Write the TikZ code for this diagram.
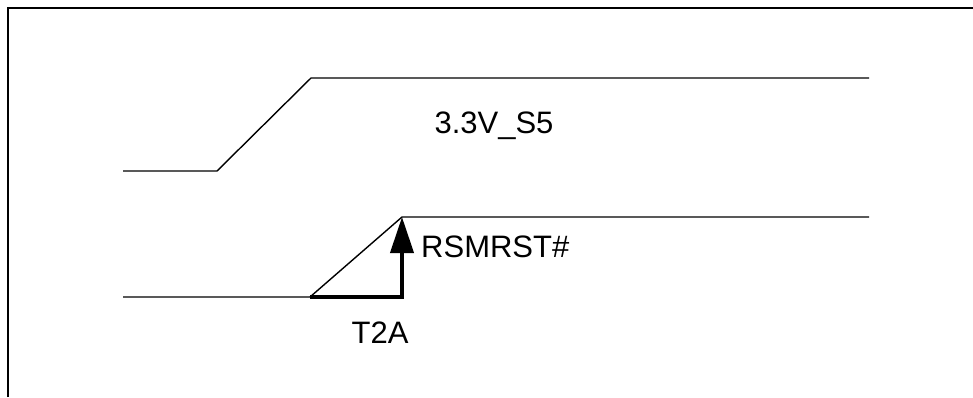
\documentclass[tikz,border=0pt]{standalone}
\usepackage{fontspec}
\setmainfont{Liberation Sans}
\usetikzlibrary{arrows.meta}

\begin{document}
\begin{tikzpicture}[x=1pt, y=-1pt,
      frame/.style={line width=2.4pt},
      wave/.style={line width=1.4pt, line join=miter},
      delay/.style={line width=4pt, line join=miter,
                    -{Triangle[length=36pt, width=23pt]}},
      sig/.style={font=\fontsize{31}{37}\selectfont, inner sep=0pt, anchor=base}
    ]
      \useasboundingbox (0,0) rectangle (973,397);
      % frame (top and left edge only)
      \coordinate (fbl) at (8,397);
      \coordinate (ftl) at (8,8);
      \coordinate (ftr) at (973,8);
      \draw[frame] (fbl) -- (ftl) -- (ftr);

      % 3.3V_S5 waveform
      \coordinate (a0) at (123,171);
      \coordinate (a1) at (217,171);
      \coordinate (a2) at (311,78);
      \coordinate (a3) at (869,78);
      \draw[wave] (a0) -- (a1) -- (a2) -- (a3);

      % RSMRST# waveform
      \coordinate (b0) at (123,297);
      \coordinate (b1) at (310,297);
      \coordinate (b2) at (402,217);
      \coordinate (b3) at (869,217);
      \draw[wave] (b0) -- (b1) -- (b2) -- (b3);

      % delay T2A
      \coordinate (d0) at (402,297);
      \draw[delay] (b1) -- (d0) -- (b2);

      \node[sig] (vs5) at (494,133) {3.3V\_S5};
      \node[sig, anchor=base west] (rst) at (421,257) {RSMRST\#};
      \node[sig] (t2a) at (380,343) {T2A};
    \end{tikzpicture}
\end{document}
